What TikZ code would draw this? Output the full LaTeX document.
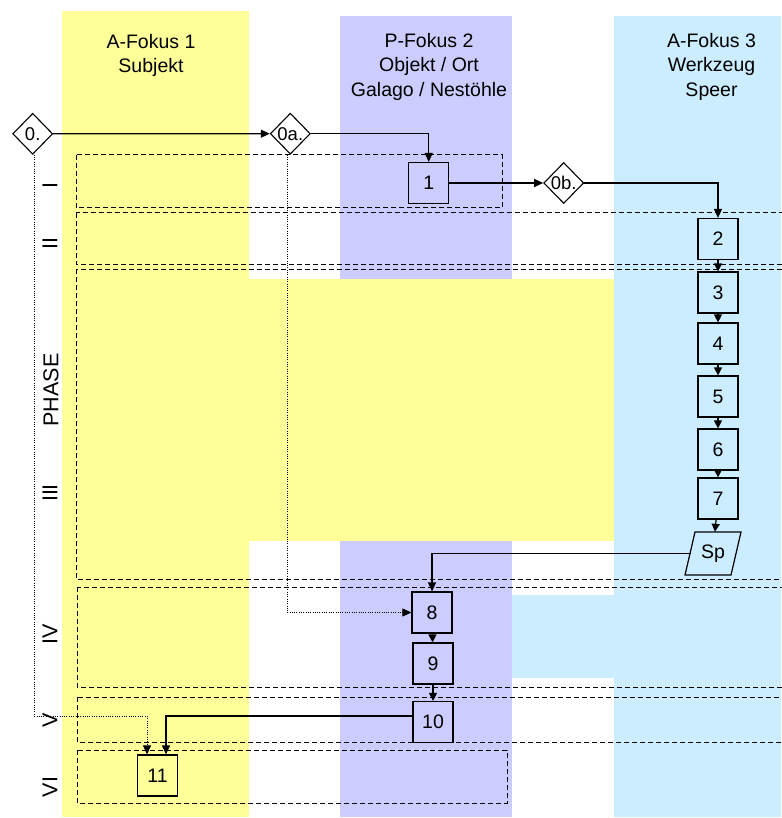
\documentclass[tikz,border=0pt]{standalone}
\usepackage{fontspec}
\setmainfont{Liberation Sans}
\usetikzlibrary{arrows.meta,shapes.geometric,calc}
\definecolor{colY}{HTML}{FFFF99}
\definecolor{colP}{HTML}{CCCCFF}
\definecolor{colB}{HTML}{CCECFF}
\begin{document}
\begin{tikzpicture}[x=1pt,y=-1pt,
  txt/.style={font=\fontsize{19.5}{24.6}\selectfont,inner sep=0pt},
  stepbox/.style={draw,line width=1.2pt,minimum width=40pt,minimum height=41pt,inner sep=0pt,font=\fontsize{19.5}{23}\selectfont},
  dia/.style={draw,diamond,line width=1.1pt,minimum width=40pt,minimum height=41pt,inner sep=0pt},
  dlabel/.style={font=\fontsize{18.5}{22}\selectfont,inner sep=0pt},
  phasebox/.style={draw,line width=1pt,dash pattern=on 5pt off 3pt},
  arr/.style={line width=1.3pt,-{Triangle[width=8pt,length=9pt]}},
  sarr/.style={line width=1.2pt,-{Triangle[width=8pt,length=8pt]}},
  dotarr/.style={line width=0.9pt,dash pattern=on 1pt off 1.3pt,-{Triangle[width=8pt,length=9pt]}},
  phaselbl/.style={rotate=90,font=\fontsize{21.5}{24}\selectfont,inner sep=0pt},
]
% background and bounding box
\fill[white] (0,0) rectangle (781,818);
\useasboundingbox (0,0) rectangle (781,818);
\fill[colY] (62,11) rectangle (249,817);
\fill[colP] (340,16) rectangle (512,817);
\fill[colB] (614,16) rectangle (781,817);
\fill[colB] (512,595) rectangle (614,678);
\fill[colY] (249,279) rectangle (614,541);

% headers
\node[txt,align=center,anchor=north] (h1) at (151,34) {A-Fokus 1\\Subjekt};
\node[txt,align=center,anchor=north] (h2) at (429,33) {P-Fokus 2\\Objekt / Ort\\Galago / Nestöhle};
\node[txt,align=center,anchor=north] (h3) at (711.5,33) {A-Fokus 3\\Werkzeug\\Speer};

% phase frames
\draw[phasebox] (76,155) rectangle (502,208);
\draw[phasebox] (76,213) rectangle (795,264);
\draw[phasebox] (76,269) rectangle (795,579);
\draw[phasebox] (77,587) rectangle (795,687);
\draw[phasebox] (77,697) rectangle (795,742);
\draw[phasebox] (77,750) rectangle (507,803);

% phase labels
\node[phaselbl] (pI) at (50,186) {I};
\node[phaselbl] (pII) at (50,243.5) {II};
\node[phaselbl] (pPH) at (51,390) {PHASE};
\node[phaselbl] (pIII) at (50,493) {III};
\node[phaselbl] (pIV) at (50,634) {IV};
\node[phaselbl] (pV) at (50,720) {V};
\node[phaselbl] (pVI) at (50,787) {VI};

% diamonds
\node[dia,label={[dlabel]center:0.}] (d0) at (32.7,133.8) {};
\node[dia,label={[dlabel]center:0a.}] (d0a) at (290.3,133.7) {};
\node[dia,label={[dlabel]center:0b.}] (d0b) at (563.7,183) {};

% boxes
\node[stepbox] (b1) at (428.7,183) {1};
\node[stepbox] (b2) at (718,239) {2};
\node[stepbox] (b3) at (718,292.5) {3};
\node[stepbox] (b4) at (718,343.5) {4};
\node[stepbox] (b5) at (718,396.5) {5};
\node[stepbox] (b6) at (718,449.5) {6};
\node[stepbox] (b7) at (718,498.5) {7};
\node[minimum width=44pt,minimum height=43pt,inner sep=0pt,font=\fontsize{19.5}{23}\selectfont] (sp) at (713,553.5) {Sp};
\draw[line width=1.2pt] ($(sp.center)+(-28,21.5)$) -- ++(10,-43) -- ++(46,0) -- ++(-10,43) -- cycle;
\node[stepbox] (b8) at (432,612.5) {8};
\node[stepbox] (b9) at (433,663.5) {9};
\node[stepbox] (b10) at (433,722) {10};
\node[stepbox] (b11) at (157.5,775.5) {11};
\coordinate (lv) at ($(b10.west)+(0,-6)$);

% dotted connectors
\draw[dotarr] ([xshift=1.5pt]d0.south) |- ([xshift=-10.5pt]b11.north |- lv) -- ([xshift=-10.5pt]b11.north);
\draw[dotarr] ([xshift=-3pt]d0a.south) |- (b8.west);

% solid connectors
\draw[arr] (d0) -- (d0a);
\draw[arr] (d0a.east) -| (b1.north);
\draw[arr] (b1) -- (d0b);
\draw[arr] (d0b.east) -| (b2.north);
\draw[sarr] (b2) -- (b3);
\draw[sarr] (b3) -- (b4);
\draw[sarr] (b4) -- (b5);
\draw[sarr] (b5) -- (b6);
\draw[sarr] (b6) -- (b7);
\draw[sarr] (b7) -- (sp);
\draw[arr] (sp.west) -| (b8.north);
\draw[sarr] (b8) -- (b9);
\draw[sarr] (b9) -- (b10);
\draw[arr] (lv) -| ([xshift=8.5pt]b11.north);
\end{tikzpicture}
\end{document}
